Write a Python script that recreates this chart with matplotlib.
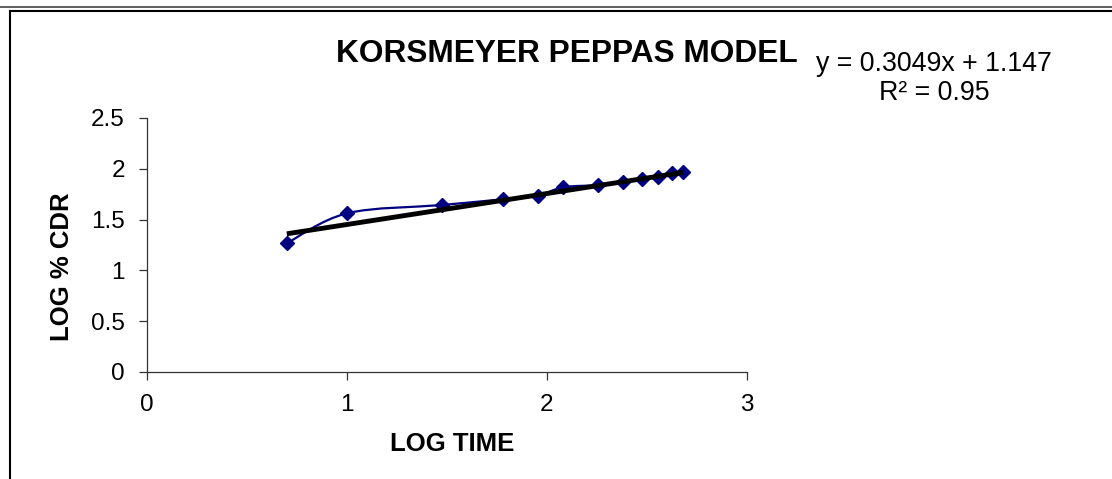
import matplotlib.pyplot as plt
import numpy as np
from matplotlib.path import Path
from matplotlib.patches import PathPatch
from matplotlib.lines import Line2D

plt.rcParams['font.family'] = ['Liberation Sans', 'DejaVu Sans']

# log time vs log % CDR
log_time = [0.699, 1.0, 1.477, 1.778, 1.954, 2.079, 2.255, 2.380, 2.477, 2.556, 2.623, 2.681]
log_cdr = [1.267, 1.562, 1.644, 1.70, 1.735, 1.818, 1.84, 1.873, 1.897, 1.922, 1.956, 1.971]

# trendline from excel
pendiente = 0.3049
intercepto = 1.147
r2 = 0.95

x_ticks = [0, 1, 2, 3]
y_ticks = [0, 0.5, 1, 1.5, 2, 2.5]
y_tick_labels = ['0', '0.5', '1', '1.5', '2', '2.5']


def curva_suave(xs, ys):
    # bezier like excel "smoothed line"
    pts = np.column_stack([xs, ys])
    verts = [pts[0]]
    codes = [Path.MOVETO]
    n = len(pts)
    for i in range(n - 1):
        p0 = pts[i - 1] if i > 0 else pts[i]
        p1 = pts[i]
        p2 = pts[i + 1]
        p3 = pts[i + 2] if i + 2 < n else pts[i + 1]
        c1 = p1 + (p2 - p0) / 6
        c2 = p2 - (p3 - p1) / 6
        verts += [c1, c2, p2]
        codes += [Path.CURVE4] * 3
    return Path(verts, codes)


fig = plt.figure(figsize=(11.12, 4.79), dpi=100)
ax = fig.add_axes([147 / 1112, 1 - 372 / 479, 600 / 1112, 254 / 479])

ax.add_patch(PathPatch(curva_suave(log_time, log_cdr), fill=False, edgecolor='#000080', lw=1.6, zorder=2))
ax.plot(log_time, log_cdr, linestyle='none', marker='D', markersize=7, color='#000080', zorder=3)

xt = np.array([min(log_time), max(log_time)])
ax.plot(xt, pendiente * xt + intercepto, color='black', lw=3.5, solid_capstyle='butt', zorder=4)

ax.set_xlim(0, 3)
ax.set_ylim(0, 2.5)
ax.set_xticks(x_ticks)
ax.set_xticklabels([str(t) for t in x_ticks])
ax.set_yticks(y_ticks)
ax.set_yticklabels(y_tick_labels)
ax.spines['top'].set_visible(False)
ax.spines['right'].set_visible(False)
for s in ['left', 'bottom']:
    ax.spines[s].set_color('#333333')
    ax.spines[s].set_linewidth(0.9)
ax.tick_params(axis='both', direction='out', length=6, width=0.9, color='#333333', labelsize=17.5)
ax.tick_params(axis='x', pad=10)
ax.tick_params(axis='y', pad=10)

fig.text(452 / 1112, 1 - 444 / 479, 'LOG TIME', fontsize=18.5, fontweight='bold',
         ha='center', va='center')
fig.text(62 / 1112, 1 - 267 / 479, 'LOG % CDR', fontsize=18.5, fontweight='bold', rotation=90,
         ha='center', va='center')

fig.text(567 / 1112, 1 - 62 / 479, 'KORSMEYER PEPPAS MODEL', fontsize=22.8, fontweight='bold',
         ha='center', va='baseline')
fig.text(934 / 1112, 1 - 100 / 479, f'y = {pendiente}x + {intercepto}\nR² = {r2}', fontsize=19.3,
         ha='center', va='baseline', multialignment='center', linespacing=1.15)

# marco del grafico
fig.add_artist(Line2D([0, 1], [1 - 6.5 / 479] * 2, transform=fig.transFigure, color='#444444', lw=1.2))
fig.add_artist(Line2D([10 / 1112, 1], [1 - 10.5 / 479] * 2, transform=fig.transFigure, color='black', lw=1.5))
fig.add_artist(Line2D([10 / 1112] * 2, [0, 1 - 10.5 / 479], transform=fig.transFigure, color='black', lw=1.5))

fig.savefig('out.png', dpi=100)
